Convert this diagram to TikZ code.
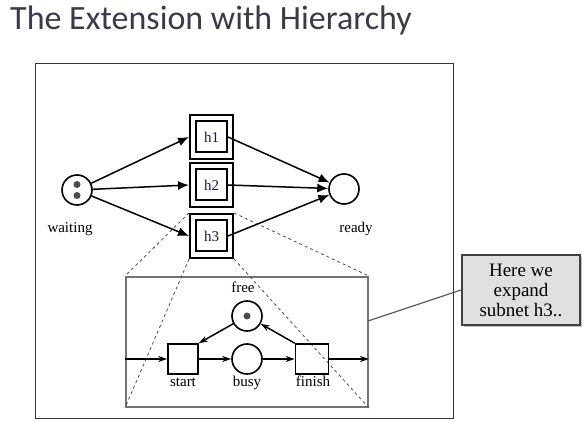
\documentclass[tikz,border=0pt]{standalone}
\usepackage{fontspec}
\setmainfont{Liberation Serif}
\newfontfamily\titlefont{Carlito}
\usetikzlibrary{arrows.meta,shadows}

\definecolor{titlecol}{RGB}{58,58,74}
\definecolor{hcol}{RGB}{25,25,80}
\definecolor{notefill}{RGB}{224,224,226}

\begin{document}
\begin{tikzpicture}[x=1pt,y=-1pt,
    place/.style={circle,draw,line width=1.6pt,minimum size=30pt,inner sep=0pt},
    token/.style={circle,fill=black!70,minimum size=7pt,inner sep=0pt},
    outbox/.style={draw,line width=2pt,minimum width=43pt,minimum height=44pt,inner sep=0pt},
    inbox/.style={draw,line width=2pt,minimum size=31pt,inner sep=0pt,text=hcol,
                  font=\fontsize{15}{17}\selectfont},
    trans/.style={draw,line width=1.6pt,minimum size=30pt,inner sep=0pt},
    arc/.style={-{Latex[length=11pt,width=9pt]},line width=1.5pt},
    subarc/.style={-{Stealth[length=9pt,width=6pt,fill=black!45]},line width=1.5pt},
    zoomline/.style={dashed,black!70,line width=0.8pt},
    lbl/.style={font=\fontsize{15}{17}\selectfont,inner sep=0pt,anchor=base},
    note/.style={draw=black!75,line width=1.8pt,fill=notefill,drop shadow,align=center,
                 minimum width=118pt,minimum height=70pt,inner sep=2pt,
                 font=\fontsize{19}{20}\selectfont}
]
    \useasboundingbox (0,0) rectangle (587,422);

    % Title and frame
    \node[anchor=base west,text=titlecol,inner sep=0pt,
          font=\titlefont\fontsize{34}{40}\selectfont] (title) at (10,30) {The Extension with Hierarchy};
    \draw[black!80,line width=1pt] (35,64) rectangle (453,418);

    % Top level net
    \node[place] (waiting) at (77,190) {};
    \node[token] (tok1) at (77,184.5) {};
    \node[token] (tok2) at (77,195.5) {};
    \node[place] (ready) at (344,189) {};
    \node[lbl] (waitinglbl) at (70,233) {waiting};
    \node[lbl] (readylbl) at (356,233) {ready};

    \foreach \name/\y in {h1/137, h2/185, h3/236} {
        \node[outbox] (\name) at (211.5,\y) {};
        \node[inbox] (\name in) at (211.5,\y) {\name};
    }

    \foreach \name in {h1,h2,h3} {
        \draw[arc] (waiting) -- (\name.west);
        \draw[arc] (\name in.east) -- (ready);
    }

    % Expanded subnet h3
    \node[draw=black!55,line width=2pt,minimum width=242pt,minimum height=130pt] (sub) at (247,342) {};
    \draw[zoomline] (h3.north west) -- (sub.north west);
    \draw[zoomline] (h3.north east) -- (sub.north east);
    \draw[zoomline] (h3.south west) -- (sub.south west);
    \draw[zoomline] (h3.south east) -- (sub.south east);

    \node[place] (free) at (247,316) {};
    \node[token] (tok3) at (247,316) {};
    \node[place] (busy) at (247,359) {};
    \node[trans] (start) at (183,359) {};
    \node[trans,minimum width=33pt] (finish) at (312,359) {};
    \node[lbl] (freelbl) at (243,293) {free};
    \node[lbl] (startlbl) at (183,387) {start};
    \node[lbl] (busylbl) at (247,387) {busy};
    \node[lbl] (finishlbl) at (313,387) {finish};

    \draw[subarc] (sub.west |- start) -- (start);
    \draw[subarc] (start) -- (busy);
    \draw[subarc] (busy) -- (finish);
    \draw[subarc] (finish) -- (sub.east |- finish);
    \draw[subarc] (finish.north west) -- (free);
    \draw[subarc] (free) -- (start.north east);

    % Callout
    \node[note] (note) at (521,290) {Here we\\expand\\subnet h3..};
    \coordinate (hook) at (368,321);
    \draw[black!65,line width=1.2pt] (note.west) -- (hook);
\end{tikzpicture}
\end{document}
